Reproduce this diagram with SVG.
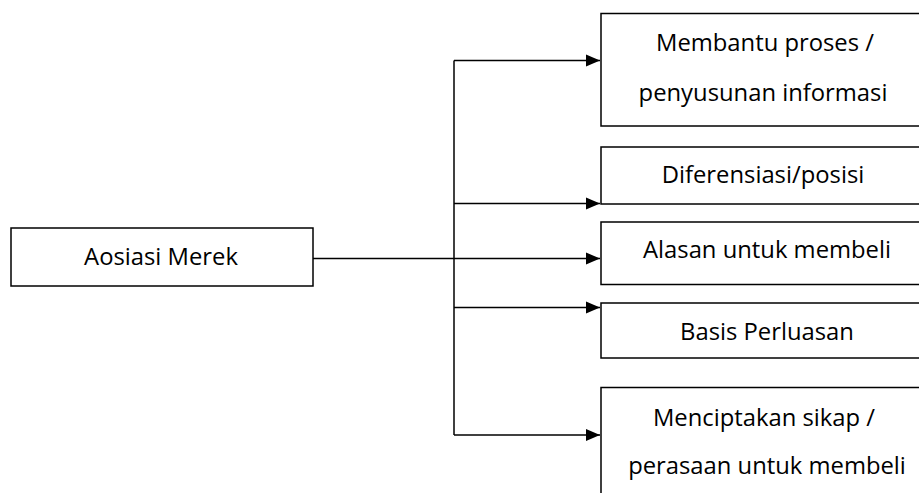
<svg xmlns="http://www.w3.org/2000/svg" width="919" height="493" viewBox="0 0 919 493">
<style>
.box{fill:#fff;stroke:#000;stroke-width:1.5}
.lbl{font-family:"Open Sans","Liberation Sans",sans-serif;font-size:23.8px;fill:#000;text-anchor:middle}
.conn{fill:none;stroke:#000;stroke-width:1.5}
</style>
<defs>
<marker id="arr" markerUnits="userSpaceOnUse" markerWidth="16" markerHeight="14" refX="15" refY="7" orient="auto">
<path d="M1,1 L15,7 L1,13 Z" fill="#000"/>
</marker>
</defs>
<rect width="919" height="493" fill="#fff"/>
<g id="connectors">
<line class="conn" x1="313" y1="258.5" x2="454" y2="258.5"/>
<line class="conn" x1="454" y1="60.5" x2="454" y2="435"/>
<line class="conn" x1="454" y1="60.5" x2="600" y2="60.5" marker-end="url(#arr)"/>
<line class="conn" x1="454" y1="203.5" x2="600" y2="203.5" marker-end="url(#arr)"/>
<line class="conn" x1="454" y1="258.5" x2="600" y2="258.5" marker-end="url(#arr)"/>
<line class="conn" x1="454" y1="307.5" x2="600" y2="307.5" marker-end="url(#arr)"/>
<line class="conn" x1="454" y1="435" x2="600" y2="435" marker-end="url(#arr)"/>
</g>
<g id="aosiasi">
<rect class="box" x="11" y="228" width="302" height="58"/>
<text class="lbl" x="161" y="264.5">Aosiasi Merek</text>
</g>
<g id="membantu">
<rect class="box" x="601" y="13.5" width="330" height="112.5"/>
<text class="lbl" x="765" y="50.5">Membantu proses /</text>
<text class="lbl" x="763" y="100.5">penyusunan informasi</text>
</g>
<g id="diferensiasi">
<rect class="box" x="601" y="147" width="330" height="57"/>
<text class="lbl" x="763" y="183">Diferensiasi/posisi</text>
</g>
<g id="alasan">
<rect class="box" x="601" y="222" width="330" height="62.5"/>
<text class="lbl" x="767" y="258">Alasan untuk membeli</text>
</g>
<g id="basis">
<rect class="box" x="601" y="303" width="330" height="55"/>
<text class="lbl" x="767" y="340">Basis Perluasan</text>
</g>
<g id="menciptakan">
<rect class="box" x="601" y="387.5" width="330" height="120"/>
<text class="lbl" x="764" y="425.5">Menciptakan sikap /</text>
<text class="lbl" x="767" y="473.5">perasaan untuk membeli</text>
</g>
</svg>
